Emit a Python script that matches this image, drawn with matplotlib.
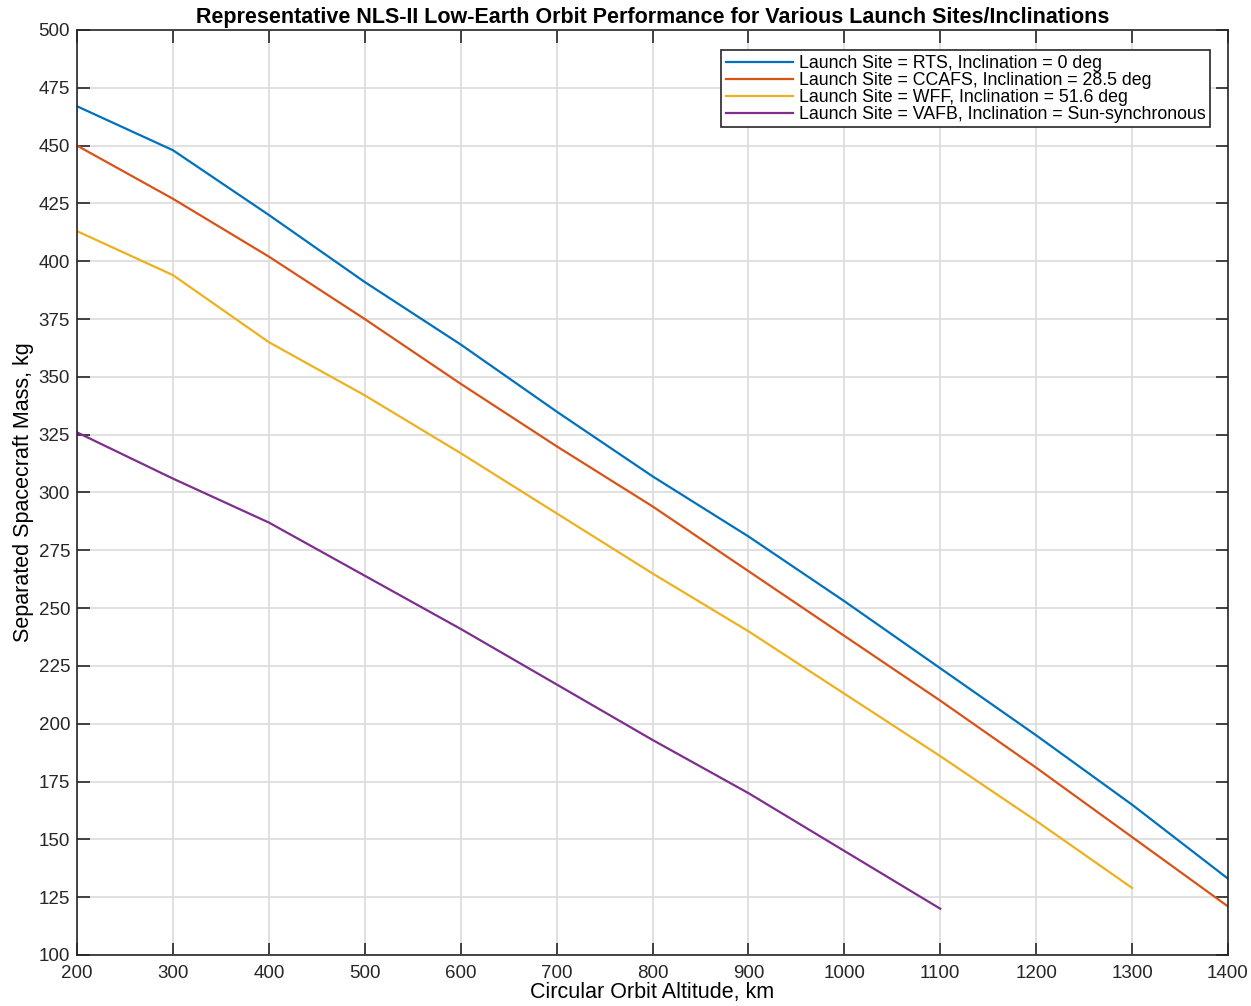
import matplotlib
matplotlib.use('Agg')
import matplotlib.pyplot as plt

# Circular orbit altitude, km
altitude = [200, 300, 400, 500, 600, 700, 800, 900, 1000, 1100, 1200, 1300, 1400]

# Separated spacecraft mass, kg
mass_rts = [467, 448, 420, 391, 364, 335, 307, 281, 253, 224, 195, 165, 133]
mass_ccafs = [450, 427, 402, 375, 347, 320, 294, 266, 238, 210, 181, 151, 121]
mass_wff = [413, 394, 365, 342, 317, 291, 265, 240, 213, 186, 158, 129]
mass_vafb = [326, 306, 287, 264, 241, 217, 193, 170, 145, 120]

labels = ['Launch Site = RTS, Inclination = 0 deg',
          'Launch Site = CCAFS, Inclination = 28.5 deg',
          'Launch Site = WFF, Inclination = 51.6 deg',
          'Launch Site = VAFB, Inclination = Sun-synchronous']
colors = ['#0072BD', '#D95319', '#EDB120', '#7E2F8E']

plt.rcParams['font.family'] = ['Liberation Sans', 'DejaVu Sans']

fig = plt.figure(figsize=(12.51, 10.06), dpi=100)
ax = fig.add_axes([0.0616, 0.0507, 0.92, 0.9195])

series = [mass_rts, mass_ccafs, mass_wff, mass_vafb]
for vals, lab, c in zip(series, labels, colors):
    ax.plot(altitude[:len(vals)], vals, color=c, linewidth=1.6, label=lab)

ax.set_xlim(200, 1400)
ax.set_ylim(100, 500)
ax.set_xticks(range(200, 1401, 100))
ax.set_yticks(range(100, 501, 25))
ax.grid(True, color='#dcdcdc', linewidth=1.2)
ax.set_axisbelow(True)
ax.tick_params(direction='in', length=9, width=1.2, top=True, right=True,
               labelsize=13.5, colors='#262626', pad=5)
ax.tick_params(axis='x', pad=7)
for sp in ax.spines.values():
    sp.set_color('#262626')
    sp.set_linewidth(1.2)

ax.set_xlabel('Circular Orbit Altitude, km', fontsize=15.5, labelpad=0)
ax.set_ylabel('Separated Spacecraft Mass, kg', fontsize=15.5, labelpad=3)
ax.set_title('Representative NLS-II Low-Earth Orbit Performance for Various Launch Sites/Inclinations',
             fontsize=15.5, fontweight='bold', pad=5)

leg = ax.legend(loc='upper right', bbox_to_anchor=(0.9844, 0.978), fontsize=12.8,
                labelspacing=0.0, handlelength=3.8, handletextpad=0.3,
                borderpad=0.25, borderaxespad=0, fancybox=False, framealpha=1)
leg.get_frame().set_edgecolor('#262626')
leg.get_frame().set_linewidth(1.2)

fig.savefig('out.png', dpi=100)
plt.close()
